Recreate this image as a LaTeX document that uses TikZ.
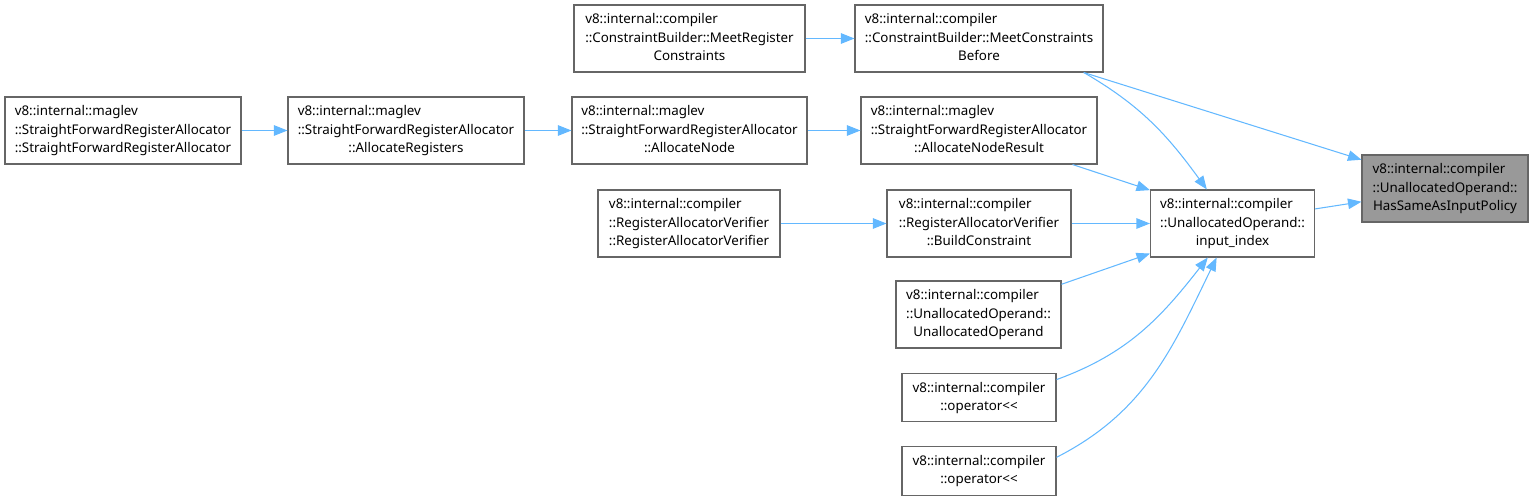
\documentclass[tikz,border=0pt]{standalone}
\usepackage{fontspec}
\setmainfont{Noto Sans}
\usepackage{xcolor}
\usetikzlibrary{arrows.meta, positioning}
\definecolor{edgeblue}{RGB}{99,184,255}
\definecolor{boxgray}{RGB}{102,102,102}
\definecolor{focusgray}{RGB}{153,153,153}
% upper lines flush left, last line centred
\newcommand{\calltext}[2]{\begin{tabular}{@{}l@{}}#1\\\multicolumn{1}{@{}c@{}}{#2}\end{tabular}}

\begin{document}
\begin{tikzpicture}[
  fnbox/.style={draw=boxgray, fill=white, line width=0.6pt,
                minimum height=1.34cm, inner sep=1pt,
                font=\fontsize{7.6}{10.4}\selectfont, text centered, align=center},
  focus/.style={fnbox, fill=focusgray},
  call/.style={-{Triangle[length=0.27cm, width=0.21cm]}, line width=0.6pt, color=edgeblue},
]
\useasboundingbox (0,0) rectangle (30.66,10.02);

%% Column 0: the function itself
\node[focus, minimum width=3.32cm] (target) at (28.90,6.25)
  {\calltext{v8::internal::compiler\\::UnallocatedOperand::}{HasSameAsInputPolicy}};

%% Column 1
\node[fnbox, minimum width=3.28cm] (inidx) at (24.65,5.55)
  {\calltext{v8::internal::compiler\\::UnallocatedOperand::}{input\_index}};

%% Column 2: callers of input_index
\node[fnbox, minimum width=4.96cm] (meetbefore) at (19.58,9.25)
  {\calltext{v8::internal::compiler\\::ConstraintBuilder::MeetConstraints}{Before}};
\node[fnbox, minimum width=4.72cm] (noderesult) at (19.58,7.41)
  {\calltext{v8::internal::maglev\\::StraightForwardRegisterAllocator}{::AllocateNodeResult}};
\node[fnbox, minimum width=3.68cm] (buildcons) at (19.58,5.55)
  {\calltext{v8::internal::compiler\\::RegisterAllocatorVerifier}{::BuildConstraint}};
\node[fnbox, minimum width=3.30cm] (unalloc) at (19.57,3.73)
  {\calltext{v8::internal::compiler\\::UnallocatedOperand::}{UnallocatedOperand}};
\node[fnbox, minimum width=3.08cm, minimum height=0.96cm] (opshl) at (19.58,2.07)
  {\calltext{v8::internal::compiler}{::operator<{}<}};
\node[fnbox, minimum width=3.08cm, minimum height=0.98cm] (opshlb) at (19.58,0.60)
  {\calltext{v8::internal::compiler}{::operator<{}<}};

%% Column 3
\node[fnbox, minimum width=4.62cm] (meetreg) at (13.79,9.25)
  {\calltext{v8::internal::compiler\\::ConstraintBuilder::MeetRegister}{Constraints}};
\node[fnbox, minimum width=4.70cm] (allocnode) at (13.79,7.41)
  {\calltext{v8::internal::maglev\\::StraightForwardRegisterAllocator}{::AllocateNode}};
\node[fnbox, minimum width=3.64cm] (verifier) at (13.78,5.55)
  {\calltext{v8::internal::compiler\\::RegisterAllocatorVerifier}{::RegisterAllocatorVerifier}};

%% Column 4 and 5
\node[fnbox, minimum width=4.72cm] (allocregs) at (8.12,7.41)
  {\calltext{v8::internal::maglev\\::StraightForwardRegisterAllocator}{::AllocateRegisters}};
\node[fnbox, minimum width=4.72cm] (sfra) at (2.46,7.41)
  {\calltext{v8::internal::maglev\\::StraightForwardRegisterAllocator}{::StraightForwardRegisterAllocator}};

%% Calls
\draw[call] (inidx.10) -- (target.-171);
\draw[call] (meetbefore.-18) -- (target.161);
\draw[call] (meetbefore.-18) to[out=-30, in=126] (inidx.127);
\draw[call] (noderesult.-20) -- (inidx.158);
\draw[call] (buildcons) -- (inidx);
\draw[call] (unalloc.20) -- (inidx.-160);
\draw[call] (opshl.13) to[out=20, in=-128] (inidx.-126);
\draw[call] (opshlb.10) to[out=27, in=-116] (inidx.-115);
\draw[call] (meetreg) -- (meetbefore);
\draw[call] (allocnode) -- (noderesult);
\draw[call] (verifier) -- (buildcons);
\draw[call] (allocregs) -- (allocnode);
\draw[call] (sfra) -- (allocregs);

\end{tikzpicture}
\end{document}
